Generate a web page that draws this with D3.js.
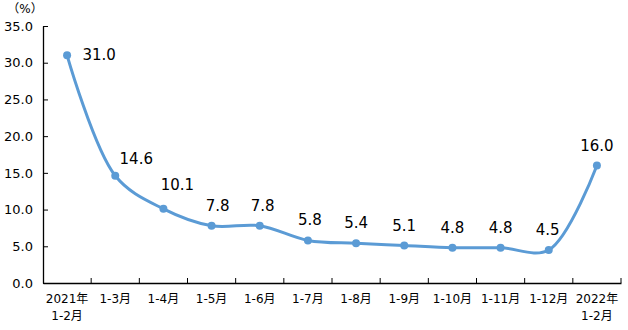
<!DOCTYPE html>
<html>
<head>
<meta charset="utf-8">
<script src="https://cdn.jsdelivr.net/npm/d3@7"></script>
<style>
  html, body { margin: 0; padding: 0; background: #fff; }
  svg text { font-family: "DejaVu Sans", "Noto Sans CJK SC", sans-serif; fill: #000; }
</style>
</head>
<body>
<svg id="chart" width="628" height="330"></svg>
<script>
// Cumulative growth rate by period (%)
const periods = ["2021年\n1-2月", "1-3月", "1-4月", "1-5月", "1-6月", "1-7月", "1-8月", "1-9月", "1-10月", "1-11月", "1-12月", "2022年\n1-2月"];
const growth = [31.0, 14.6, 10.1, 7.8, 7.8, 5.8, 5.4, 5.1, 4.8, 4.8, 4.5, 16.0];
const yTicks = [0, 5, 10, 15, 20, 25, 30, 35];

const svg = d3.select("#chart");
const margin = { left: 43, right: 7, top: 26, bottom: 47 };
const W = 628, H = 330;

const x = d3.scaleBand().domain(periods).range([margin.left, W - margin.right]).padding(0);
const y = d3.scaleLinear().domain([0, 35]).range([H - margin.bottom, margin.top]);

// Axes
const yAxis = svg.append("g")
  .attr("transform", `translate(${margin.left},0)`)
  .call(d3.axisLeft(y).tickValues(yTicks).tickFormat(d3.format(".1f")).tickSizeInner(-5).tickSizeOuter(0).tickPadding(10));
yAxis.selectAll("text").style("font-size", "13px");

const xAxis = svg.append("g")
  .attr("transform", `translate(0,${H - margin.bottom})`)
  .call(d3.axisBottom(x).tickSize(0).tickFormat(""));
// Tick marks on band boundaries, pointing inward
xAxis.selectAll(".bnd")
  .data(periods)
  .enter().append("line")
  .attr("class", "bnd")
  .attr("x1", d => x(d) + x.bandwidth())
  .attr("x2", d => x(d) + x.bandwidth())
  .attr("y1", 0).attr("y2", -5)
  .attr("stroke", "#000");
svg.selectAll(".domain").attr("stroke", "#000").attr("stroke-width", 1.3);
svg.selectAll(".tick line").attr("stroke", "#000");

// Category labels (may span two lines)
const xl = svg.append("g");
periods.forEach(p => {
  const lines = p.split("\n");
  const t = xl.append("text")
    .attr("x", x(p) + x.bandwidth() / 2)
    .attr("y", H - margin.bottom + 20)
    .attr("text-anchor", "middle")
    .style("font-size", "12px");
  lines.forEach((ln, k) => {
    t.append("tspan").attr("x", x(p) + x.bandwidth() / 2).attr("dy", k === 0 ? 0 : 17).text(ln);
  });
});

// Unit label
svg.append("text").attr("x", 25).attr("y", 13).attr("text-anchor", "middle")
  .style("font-size", "12px").text("（%）");

// Line
const cx = d => x(d.p) + x.bandwidth() / 2;
const pts = periods.map((p, i) => ({ p, v: growth[i] }));
const line = d3.line().x(cx).y(d => y(d.v)).curve(d3.curveCatmullRom.alpha(0.5));
svg.append("path").datum(pts)
  .attr("d", line)
  .attr("fill", "none")
  .attr("stroke", "#5b9bd5")
  .attr("stroke-width", 3);

svg.selectAll(".dot").data(pts).enter().append("circle")
  .attr("cx", cx).attr("cy", d => y(d.v)).attr("r", 4)
  .attr("fill", "#5b9bd5");

// Value labels
const labelDx = [32, 21, 14, 6, 3, 2, 0, 0, 0, 0, -1, 0];
const labelDy = [5, -12, -19, -15, -15, -15, -15, -15, -15, -15, -15, -15];
svg.selectAll(".val").data(pts).enter().append("text")
  .attr("x", (d, i) => cx(d) + labelDx[i])
  .attr("y", (d, i) => y(d.v) + labelDy[i])
  .attr("text-anchor", "middle")
  .style("font-size", "15px")
  .text(d => d.v.toFixed(1));
</script>
</body>
</html>
